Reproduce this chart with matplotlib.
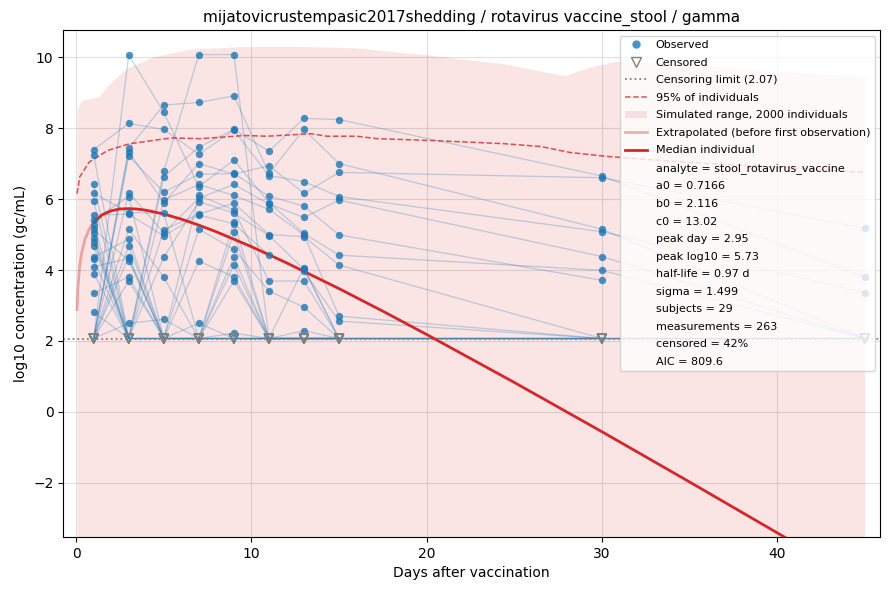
import numpy as np
import matplotlib
matplotlib.use("Agg")
import matplotlib.pyplot as plt
from matplotlib.lines import Line2D
from matplotlib.patches import Patch

## Data
C = -1.0        # censored measurement
N = np.nan      # not measured
LOD = 2.07

days = [1, 3, 5, 7, 9, 11, 13, 15, 30, 45]

# one row per subject, one column per day
subjects = [
    [7.39, 8.13, 7.96, 7.26, 7.94, 6.66, 6.49, 6.07, 5.08, 3.36],
    [4.80, C,    5.13, 5.58, 5.88, 5.00, 4.94, 4.14, C,    C],
    [C,    10.06, 8.44, 6.35, 7.10, 5.90, 5.03, 4.42, 3.99, C],
    [5.41, 6.07, C,    5.15, 4.58, 3.41, 2.95, C,    C,    N],
    [7.24, C,    6.63, 7.46, 7.96, 7.35, 8.27, 8.24, 6.65, 3.80],
    [C,    7.43, 8.65, 8.72, 8.91, 6.72, 7.96, 7.00, 5.15, C],
    [6.16, 5.62, 5.60, C,    5.36, C,    4.07, C,    C,    C],
    [5.03, C,    C,    4.25, 3.81, C,    C,    C,    C,    N],
    [4.36, 4.87, C,    C,    C,    C,    C,    C,    C,    C],
    [C,    7.21, 6.19, 6.70, 6.72, 6.08, 5.80, 4.99, 3.71, N],
    [5.94, C,    5.97, 6.41, 6.10, 5.71, 4.99, 2.70, C,    N],
    [3.34, 3.81, C,    C,    2.22, C,    C,    C,    C,    C],
    [C,    6.18, 5.05, 6.02, 6.41, 5.86, 5.48, 5.97, 4.38, C],
    [5.55, 5.57, 4.96, 5.55, 5.30, 4.42, 3.96, 2.56, C,    N],
    [4.68, C,    C,    C,    4.14, C,    C,    C,    N,    N],
    [6.41, C,    6.79, 10.07, 10.07, C,   2.29, C,    C,    C],
    [C,    4.38, C,    C,    C,    C,    C,    C,    N,    N],
    [4.09, 4.33, C,    C,    C,    C,    C,    C,    N,    N],
    [5.27, C,    4.36, 5.93, 5.60, 4.97, 4.02, C,    C,    N],
    [C,    5.15, 3.79, C,    4.36, C,    C,    C,    N,    N],
    [4.30, C,    C,    2.50, C,    C,    C,    C,    N,    N],
    [C,    4.68, C,    C,    3.69, C,    C,    C,    N,    N],
    [5.15, 4.26, C,    C,    C,    C,    C,    C,    N,    N],
    [3.89, C,    C,    6.11, 5.69, 3.69, 3.69, C,    N,    N],
    [C,    2.50, 2.61, C,    C,    C,    C,    C,    N,    N],
    [4.89, C,    C,    C,    C,    C,    C,    C,    N,    N],
    [C,    7.33, 5.90, 7.00, 6.70, 6.94, 6.16, 6.75, 6.60, 5.17],
    [2.81, C,    C,    C,    5.06, C,    C,    C,    N,    N],
    [C,    3.69, C,    C,    C,    C,    C,    C,    N,    N],
]

# simulated range (upper edge of band) and 95% line
band_days = [0.05, 0.12, 0.3, 1.27, 1.8, 2.85, 4.33, 6.45, 9.6, 12.8, 16.0, 20.2,
             24.4, 27.9, 29.1, 30.8, 35, 40, 45]
band_hi = [8.40, 8.62, 8.78, 8.87, 9.20, 9.67, 10.0, 10.22, 10.30, 10.30, 10.26, 10.05,
           9.81, 9.47, 9.69, 9.88, 9.80, 9.60, 9.45]
band_lo = [-6.0] * len(band_days)

p95_days = [0.05, 0.2, 0.74, 1.8, 3.07, 5.4, 7.1, 9.6, 10.9, 13.4, 14.3, 16.0,
            17.2, 20.2, 24.4, 26.5, 28.2, 30.3, 33, 36, 40, 45]
p95 = [6.15, 6.62, 7.04, 7.37, 7.56, 7.72, 7.70, 7.79, 7.77, 7.84, 7.77, 7.77,
       7.70, 7.65, 7.56, 7.48, 7.31, 7.20, 7.10, 7.00, 6.90, 6.75]

# median individual
extrap_days = [0.05, 0.1, 0.2, 0.3, 0.5, 0.75, 1.0]
extrap_vals = [2.886, 3.507, 4.113, 4.455, 4.862, 5.157, 5.343]
med_days = [1, 1.5, 2, 2.5, 3, 3.5, 4, 5, 6, 7, 8, 10, 12, 15, 17.5, 20, 25,
            30, 35, 40, 45]
med_vals = [5.343, 5.560, 5.669, 5.719, 5.730, 5.717, 5.684, 5.577, 5.434,
            5.264, 5.076, 4.658, 4.203, 3.475, 2.84, 2.183, 0.832, -0.556,
            -1.971, -3.404, -4.852]

info = ["analyte = stool_rotavirus_vaccine", "a0 = 0.7166", "b0 = 2.116",
        "c0 = 13.02", "peak day = 2.95", "peak log10 = 5.73", "half-life = 0.97 d",
        "sigma = 1.499", "subjects = 29", "measurements = 263", "censored = 42%",
        "AIC = 809.6"]

## Plotting
blue = "#1f77b4"
red = "#d62728"

fig, ax = plt.subplots(figsize=(8.9, 5.9), dpi=100)
fig.subplots_adjust(left=0.071, right=0.989, top=0.949, bottom=0.090)

ax.fill_between(band_days, band_lo, band_hi, color=red, alpha=0.12, lw=0, zorder=1)

obs_x, obs_y, cen_x = [], [], []
for row in subjects:
    xs, ys = [], []
    for d, v in zip(days, row):
        if np.isnan(v):
            continue
        if v == C:
            ys.append(LOD)
            cen_x.append(d)
        else:
            ys.append(v)
            obs_x.append(d)
            obs_y.append(v)
        xs.append(d)
    ax.plot(xs, ys, color=blue, alpha=0.28, lw=0.9, zorder=2)

ax.axhline(LOD, color="gray", ls=":", lw=1.3, zorder=2)
ax.plot(p95_days, p95, color=red, ls="--", lw=1.1, alpha=0.8, zorder=3)
ax.plot(extrap_days, extrap_vals, color=red, lw=2, alpha=0.35, zorder=3)
ax.plot(med_days, med_vals, color=red, lw=2, zorder=4)

ax.scatter(obs_x, obs_y, s=28, color=blue, alpha=0.8, lw=0, zorder=5)
ax.scatter(cen_x, [LOD] * len(cen_x), s=40, marker="v", facecolors="none",
           edgecolors="gray", lw=1, zorder=5)

ax.set_xlim(-0.74, 45.88)
ax.set_ylim(-3.52, 10.76)
ax.set_xticks([0, 10, 20, 30, 40])
ax.set_yticks([-2, 0, 2, 4, 6, 8, 10])
ax.grid(True, color="#cccccc", alpha=0.6, lw=0.8)
ax.set_axisbelow(True)
ax.set_xlabel("Days after vaccination")
ax.set_ylabel("log10 concentration (gc/mL)")
ax.set_title("mijatovicrustempasic2017shedding / rotavirus vaccine_stool / gamma",
             fontsize=11)

handles = [
    Line2D([], [], marker="o", ls="none", color=blue, alpha=0.8, markersize=6, mec="none"),
    Line2D([], [], marker="v", ls="none", mfc="none", mec="gray", markersize=7),
    Line2D([], [], color="gray", ls=":", lw=1.3),
    Line2D([], [], color=red, ls="--", lw=1.1, alpha=0.8),
    Patch(facecolor=red, alpha=0.12, lw=0),
    Line2D([], [], color=red, lw=2, alpha=0.35),
    Line2D([], [], color=red, lw=2),
] + [Line2D([], [], ls="none") for _ in info]
labels = ["Observed", "Censored", "Censoring limit (2.07)", "95% of individuals",
          "Simulated range, 2000 individuals", "Extrapolated (before first observation)",
          "Median individual"] + info
ax.legend(handles, labels, loc="upper right", fontsize=8, framealpha=0.8,
          labelspacing=0.68, borderaxespad=0.5)

fig.savefig("out.png", dpi=100)
